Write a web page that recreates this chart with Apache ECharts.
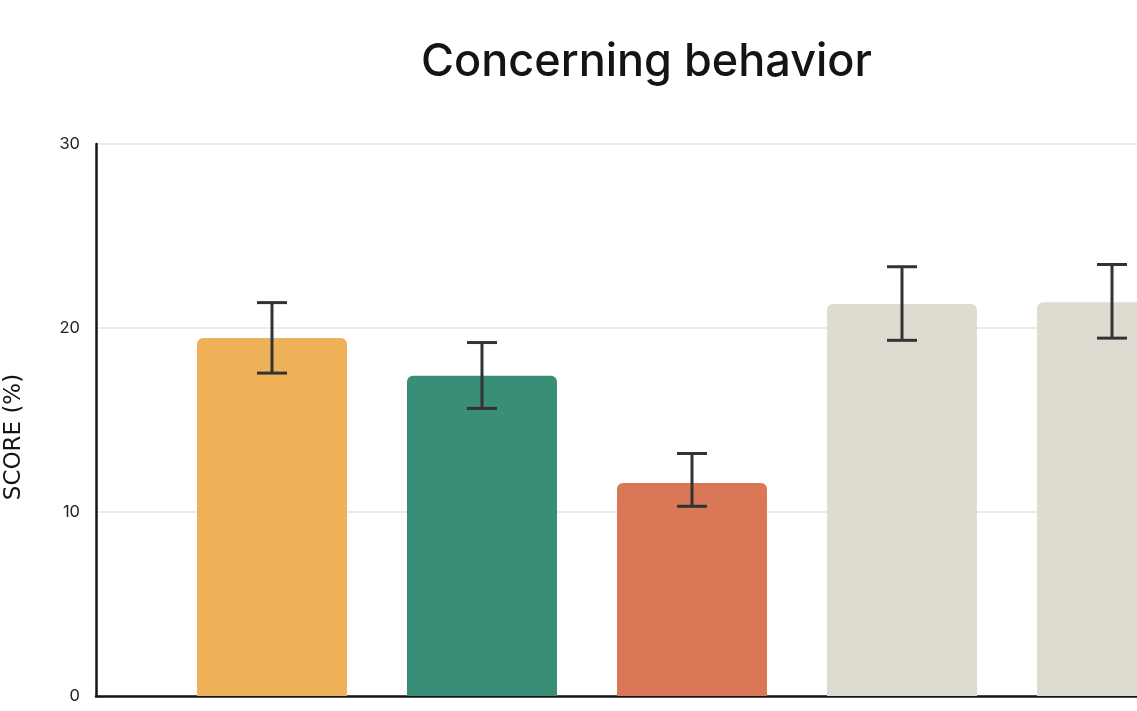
<!DOCTYPE html>
<html>
<head>
<meta charset="utf-8">
<script src="https://cdn.jsdelivr.net/npm/echarts@6/dist/echarts.min.js"></script>
<style>
html,body{margin:0;padding:0;background:#fff;}
#chart{width:1137px;height:711px;}
</style>
</head>
<body>
<div id="chart"></div>
<script>
// Data
var categories = ['Model 1', 'Model 2', 'Model 3', 'Model 4', 'Model 5'];
var scores = [19.45, 17.4, 11.58, 21.3, 21.4];
var errLow = [17.55, 15.63, 10.31, 19.33, 19.45];
var errHigh = [21.38, 19.21, 13.18, 23.33, 23.45];
var barColors = ['#EFB157', '#388E76', '#D97757', '#DEDCD1', '#DEDCD1'];
var yTicks = [0, 10, 20, 30];

var chart = echarts.init(document.getElementById('chart'));

var barData = categories.map(function (c, i) {
  return { value: [i, scores[i]], itemStyle: { color: barColors[i] } };
});
var errData = categories.map(function (c, i) {
  return [i, errLow[i], errHigh[i]];
});

var option = {
  backgroundColor: '#ffffff',
  animation: false,
  title: {
    text: 'Concerning behavior',
    left: 421,
    top: 40,
    padding: 0,
    textStyle: {
      fontFamily: 'Inter',
      fontWeight: 500,
      fontSize: 45,
      color: '#141413'
    }
  },
  grid: {
    left: 96,
    top: 144,
    bottom: 15,
    right: 0,
    containLabel: false,
    outerBoundsMode: 'none'
  },
  xAxis: {
    type: 'value',
    min: -0.838,
    max: 4.119,
    axisLine: { show: true, onZero: false, lineStyle: { color: '#141413', width: 2.5 } },
    axisTick: { show: false },
    axisLabel: { show: false },
    splitLine: { show: false }
  },
  yAxis: {
    type: 'value',
    min: yTicks[0],
    max: yTicks[yTicks.length - 1],
    interval: 10,
    name: 'SCORE (%)',
    nameLocation: 'middle',
    nameGap: 70,
    nameTextStyle: {
      fontFamily: 'DejaVu Sans',
      fontSize: 23,
      color: '#141413',
      padding: [0, 34, 0, 0]
    },
    axisLine: { show: true, onZero: false, lineStyle: { color: '#141413', width: 2.5 } },
    axisTick: { show: false },
    axisLabel: {
      margin: 16,
      fontFamily: 'Inter',
      fontSize: 16.5,
      color: '#222'
    },
    splitLine: { show: true, lineStyle: { color: '#EAEAE8', width: 2 } }
  },
  series: [
    {
      type: 'bar',
      data: barData,
      barWidth: 150,
      clip: false,
      itemStyle: { borderRadius: [6, 6, 0, 0] },
      z: 2
    },
    {
      type: 'custom',
      data: errData,
      z: 5,
      renderItem: function (params, api) {
        var x = api.value(0);
        var lo = api.coord([x, api.value(1)]);
        var hi = api.coord([x, api.value(2)]);
        var cap = 15;
        var style = { stroke: '#333333', lineWidth: 3 };
        return {
          type: 'group',
          children: [
            { type: 'line', shape: { x1: hi[0], y1: hi[1], x2: lo[0], y2: lo[1] }, style: style },
            { type: 'line', shape: { x1: hi[0] - cap, y1: hi[1], x2: hi[0] + cap, y2: hi[1] }, style: style },
            { type: 'line', shape: { x1: lo[0] - cap, y1: lo[1], x2: lo[0] + cap, y2: lo[1] }, style: style }
          ]
        };
      }
    }
  ]
};
chart.setOption(option);
</script>
</body>
</html>
